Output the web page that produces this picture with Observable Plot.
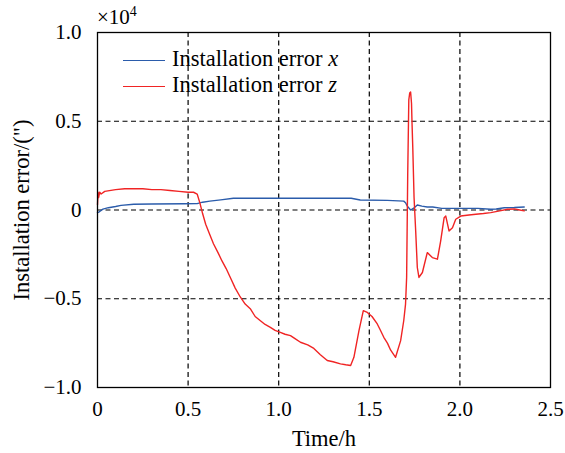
<!DOCTYPE html>
<html><head><meta charset="utf-8">
<script src="https://cdn.jsdelivr.net/npm/d3@7"></script>
<script src="https://cdn.jsdelivr.net/npm/@observablehq/plot@0.6"></script>
<style>
body{margin:0;background:#fff;}
#wrap{position:relative;width:565px;height:453px;font-family:"Liberation Serif","DejaVu Serif",serif;color:#000;}
.ov{position:absolute;white-space:nowrap;font-size:22.5px;line-height:1;}
.sw{position:absolute;height:0;border-top:1.5px solid;}
</style></head><body><div id="wrap"></div>
<script>
// Time (h) and installation error (x10^4 arcsec)
const timeX = [0, 0.01, 0.03, 0.06, 0.1, 0.13, 0.2, 0.3, 0.48, 0.55, 0.58, 0.62, 0.68, 0.75, 1.0, 1.2, 1.4, 1.45, 1.6, 1.69, 1.70, 1.71, 1.728, 1.745, 1.765, 1.79, 1.82, 1.85, 1.9, 2.0, 2.1, 2.17, 2.2, 2.245, 2.3, 2.355];
const errX  = [-0.015, -0.01, 0.005, 0.013, 0.02, 0.026, 0.032, 0.034, 0.035, 0.036, 0.044, 0.05, 0.057, 0.066, 0.066, 0.066, 0.066, 0.056, 0.054, 0.05, 0.041, 0.022, 0.0, 0.01, 0.028, 0.022, 0.017, 0.017, 0.009, 0.009, 0.009, 0.004, 0.006, 0.013, 0.014, 0.017];

const timeZ = [0, 0.003, 0.006, 0.012, 0.02, 0.04, 0.1, 0.15, 0.2, 0.25, 0.3, 0.35, 0.4, 0.45, 0.5, 0.53, 0.55, 0.565, 0.58, 0.597, 0.62, 0.64, 0.665, 0.687, 0.71, 0.733, 0.76, 0.788, 0.815, 0.843, 0.87, 0.899, 0.925, 0.954, 0.98, 1.009, 1.035, 1.065, 1.09, 1.12, 1.16, 1.194, 1.23, 1.268, 1.3, 1.341, 1.37, 1.397, 1.415, 1.443, 1.467, 1.489, 1.515, 1.544, 1.56, 1.58, 1.6, 1.618, 1.645, 1.673, 1.69, 1.70, 1.706, 1.712, 1.718, 1.723, 1.728, 1.733, 1.736, 1.74, 1.747, 1.756, 1.765, 1.774, 1.793, 1.82, 1.848, 1.876, 1.894, 1.913, 1.922, 1.94, 1.959, 1.977, 2.005, 2.05, 2.088, 2.13, 2.17, 2.22, 2.263, 2.3, 2.33, 2.355];
const errZ  = [0.03, 0.1, 0.07, 0.1, 0.09, 0.105, 0.115, 0.12, 0.12, 0.12, 0.115, 0.115, 0.11, 0.105, 0.1, 0.1, 0.09, 0.04, -0.02, -0.08, -0.14, -0.19, -0.24, -0.287, -0.33, -0.38, -0.44, -0.49, -0.53, -0.556, -0.6, -0.624, -0.645, -0.661, -0.678, -0.689, -0.7, -0.708, -0.725, -0.745, -0.76, -0.78, -0.815, -0.848, -0.855, -0.867, -0.872, -0.876, -0.83, -0.68, -0.567, -0.577, -0.6, -0.642, -0.675, -0.717, -0.75, -0.79, -0.83, -0.736, -0.624, -0.53, -0.38, 0.2, 0.62, 0.659, 0.665, 0.6, 0.483, 0.35, 0.07, -0.118, -0.324, -0.38, -0.352, -0.24, -0.268, -0.277, -0.174, -0.043, -0.034, -0.118, -0.1, -0.052, -0.034, -0.028, -0.024, -0.02, -0.015, -0.005, 0.004, 0.006, 0.0, -0.005];

const xTicks = [0, 0.5, 1, 1.5, 2, 2.5];
const xTickLabels = ["0", "0.5", "1.0", "1.5", "2.0", "2.5"];
const yTicks = [-1, -0.5, 0, 0.5, 1];
const yTickLabels = ["\u22121.0", "\u22120.5", "0", "0.5", "1.0"];
const seriesNames = ["Installation error x", "Installation error z"];
const seriesColors = ["#2b5cab", "#f02424"];

const dataX = timeX.map((t, i) => ({t, v: errX[i]}));
const dataZ = timeZ.map((t, i) => ({t, v: errZ[i]}));
const gridXv = xTicks.filter(d => d > 0 && d < 2.5);
const gridYv = yTicks.filter(d => d > -1 && d < 1);

const chart = Plot.plot({
  width: 565, height: 453,
  marginLeft: 97, marginRight: 15, marginTop: 32, marginBottom: 66,
  style: {fontFamily: "Liberation Serif, DejaVu Serif, serif", fontSize: "21px", background: "#fff", color: "#000"},
  x: {domain: [0, 2.5]},
  y: {domain: [-1, 1]},
  marks: [
    Plot.ruleX(gridXv, {stroke: "#000", strokeWidth: 1.2, strokeDasharray: "5,3.5"}),
    Plot.ruleY(gridYv, {stroke: "#000", strokeWidth: 1.2, strokeDasharray: "5,3.5"}),
    Plot.line(dataX, {x: "t", y: "v", stroke: seriesColors[0], strokeWidth: 1.4}),
    Plot.line(dataZ, {x: "t", y: "v", stroke: seriesColors[1], strokeWidth: 1.4}),
    Plot.frame({stroke: "#000", strokeWidth: 1.3}),
    Plot.axisX(xTicks, {tickSize: 0, tickPadding: 14, tickFormat: (d, i) => xTickLabels[i], label: "Time/h", labelAnchor: "center", labelOffset: 58, labelArrow: "none"}),
    Plot.axisY(yTicks, {tickSize: 0, tickPadding: 16, tickFormat: (d, i) => yTickLabels[i], label: 'Installation error/(")', labelAnchor: "center", labelOffset: 84, labelArrow: "none"})
  ]
});
d3.select(chart).selectAll('g[aria-label$="axis label"]').attr("font-size", "22.5px").style("font-size", "22.5px");

const wrap = document.getElementById("wrap");
wrap.appendChild(chart);

function ov(html, left, top) {
  const d = document.createElement("div");
  d.className = "ov";
  d.innerHTML = html;
  d.style.left = left + "px";
  d.style.top = top + "px";
  wrap.appendChild(d);
}
ov('<span style="font-size:21px">\u00d710<sup style="font-size:14px;vertical-align:8px;line-height:0">4</sup></span>', 97, 6);
seriesNames.forEach((name, i) => {
  const y = 60 + i * 26;
  const s = document.createElement("div");
  s.className = "sw";
  s.style.left = "123px"; s.style.top = y + "px"; s.style.width = "42px";
  s.style.borderColor = seriesColors[i];
  wrap.appendChild(s);
  const parts = name.split(" ");
  const last = parts.pop();
  ov(parts.join(" ") + ' <i>' + last + '</i>', 172, y - 12);
});
</script></body></html>
